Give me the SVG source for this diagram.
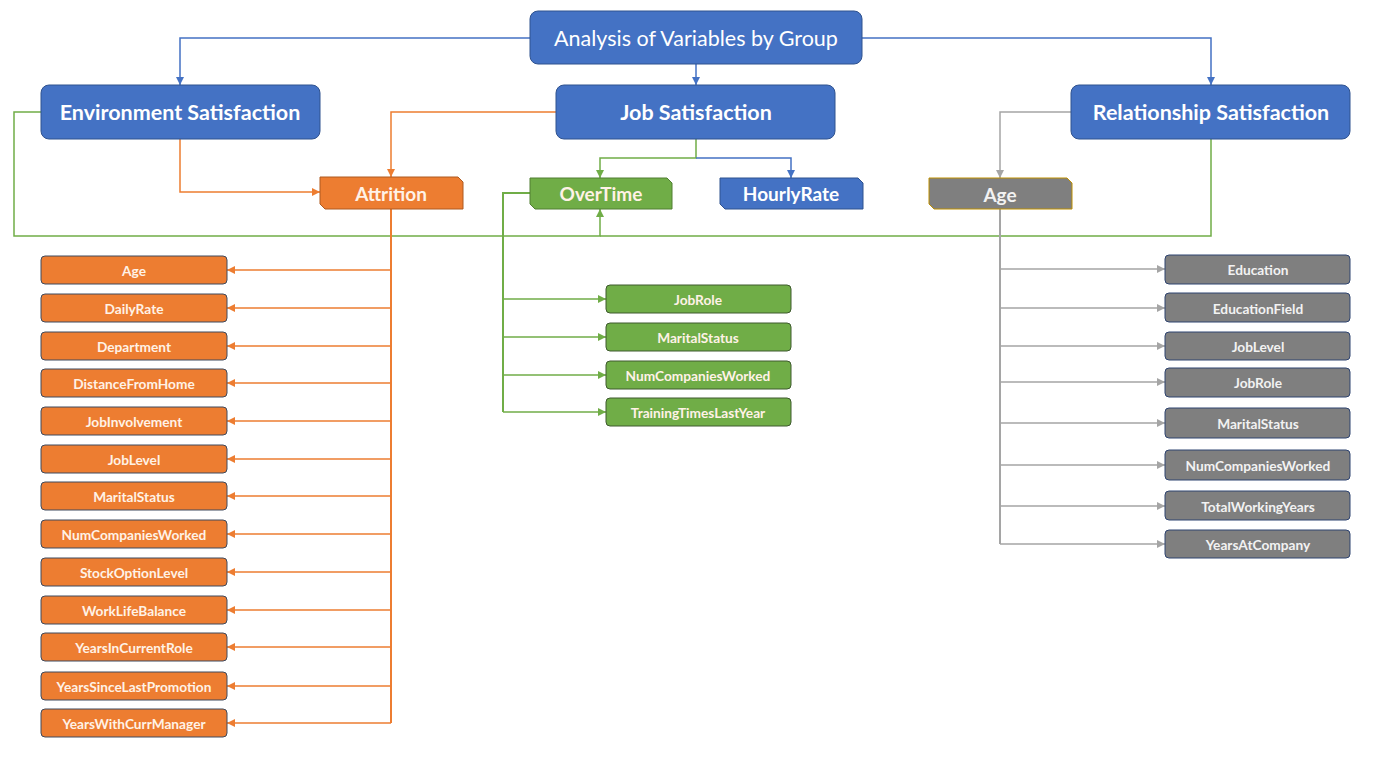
<svg xmlns="http://www.w3.org/2000/svg" width="1393" height="779" viewBox="0 0 1393 779">
<defs>
<style>
text{font-family:Lato,"Liberation Sans",sans-serif;text-anchor:middle;dominant-baseline:central}
.blue{fill:#4472C4;stroke:#2F528F;stroke-width:1}
.t1{font-size:21.5px;fill:#fff}
.t2{font-size:21.5px;font-weight:bold;fill:#fff}
.t3{font-size:19px;font-weight:bold}
.ti{font-size:13.7px;font-weight:bold}
.or{fill:#ED7D31;stroke:#AE5A21}
.orI{fill:#ED7D31;stroke:#3E4A5E}
.gr{fill:#70AD47;stroke:#507E32}
.grI{fill:#70AD47;stroke:#3E5A2E}
.gy{fill:#7F7F7F;stroke:#BF9000}
.gyI{fill:#7F7F7F;stroke:#2F4470}
.cw{fill:#FFF2E6}
.cg{fill:#F2F2F2}
.lb{fill:none;stroke:#4472C4;stroke-width:1.5}
.lo{fill:none;stroke:#ED7D31;stroke-width:1.5}
.lg{fill:none;stroke:#70AD47;stroke-width:1.5}
.ly{fill:none;stroke:#A5A5A5;stroke-width:1.5}
.tk{stroke-width:2}
</style>
<marker id="ab" markerWidth="10" markerHeight="10" refX="8" refY="5" orient="auto" markerUnits="userSpaceOnUse"><path d="M0,1 L8,5 L0,9 z" fill="#4472C4"/></marker>
<marker id="ao" markerWidth="10" markerHeight="10" refX="8" refY="5" orient="auto" markerUnits="userSpaceOnUse"><path d="M0,1 L8,5 L0,9 z" fill="#ED7D31"/></marker>
<marker id="ag" markerWidth="10" markerHeight="10" refX="8" refY="5" orient="auto" markerUnits="userSpaceOnUse"><path d="M0,1 L8,5 L0,9 z" fill="#70AD47"/></marker>
<marker id="ay" markerWidth="10" markerHeight="10" refX="8" refY="5" orient="auto" markerUnits="userSpaceOnUse"><path d="M0,1 L8,5 L0,9 z" fill="#A5A5A5"/></marker>
</defs>
<rect width="1393" height="779" fill="#fff"/>
<g id="connectors">
<path class="lb" d="M530,38 H180 V85" marker-end="url(#ab)"/>
<path class="lb" d="M696,64 V85" marker-end="url(#ab)"/>
<path class="lb" d="M862,38 H1211 V85" marker-end="url(#ab)"/>
<path class="lo" d="M180,139 V192 H320" marker-end="url(#ao)"/>
<path class="lo" d="M556,112 H391 V177" marker-end="url(#ao)"/>
<path class="lg" d="M696,139 V158 H600 V178" marker-end="url(#ag)"/>
<path class="lb" d="M696,158 H791 V178" marker-end="url(#ab)"/>
<path class="lg" d="M41,112 H14 V236 H600 V209" marker-end="url(#ag)"/>
<path class="lg" d="M1211,139 V236 H600"/>
<path class="ly" d="M1071,112 H1000 V178" marker-end="url(#ay)"/>
<path class="lo tk" d="M391,209 V723"/>
<path class="lo" d="M391,270 H227" marker-end="url(#ao)"/>
<path class="lo" d="M391,308 H227" marker-end="url(#ao)"/>
<path class="lo" d="M391,346 H227" marker-end="url(#ao)"/>
<path class="lo" d="M391,383 H227" marker-end="url(#ao)"/>
<path class="lo" d="M391,421 H227" marker-end="url(#ao)"/>
<path class="lo" d="M391,459 H227" marker-end="url(#ao)"/>
<path class="lo" d="M391,496 H227" marker-end="url(#ao)"/>
<path class="lo" d="M391,534 H227" marker-end="url(#ao)"/>
<path class="lo" d="M391,572 H227" marker-end="url(#ao)"/>
<path class="lo" d="M391,610 H227" marker-end="url(#ao)"/>
<path class="lo" d="M391,647 H227" marker-end="url(#ao)"/>
<path class="lo" d="M391,686 H227" marker-end="url(#ao)"/>
<path class="lo" d="M391,723 H227" marker-end="url(#ao)"/>
<path class="lg tk" d="M530,193 H503 V412"/>
<path class="lg" d="M503,299 H606" marker-end="url(#ag)"/>
<path class="lg" d="M503,337 H606" marker-end="url(#ag)"/>
<path class="lg" d="M503,375 H606" marker-end="url(#ag)"/>
<path class="lg" d="M503,412 H606" marker-end="url(#ag)"/>
<path class="ly tk" d="M1000,209 V544"/>
<path class="ly" d="M1000,269 H1165" marker-end="url(#ay)"/>
<path class="ly" d="M1000,308 H1165" marker-end="url(#ay)"/>
<path class="ly" d="M1000,346 H1165" marker-end="url(#ay)"/>
<path class="ly" d="M1000,382 H1165" marker-end="url(#ay)"/>
<path class="ly" d="M1000,423 H1165" marker-end="url(#ay)"/>
<path class="ly" d="M1000,465 H1165" marker-end="url(#ay)"/>
<path class="ly" d="M1000,506 H1165" marker-end="url(#ay)"/>
<path class="ly" d="M1000,544 H1165" marker-end="url(#ay)"/>
</g>
<g id="n-root"><rect class="blue" x="530" y="11" width="332" height="53" rx="8"/><text class="t1" x="696" y="38">Analysis of Variables by Group</text></g>
<g id="n-env"><rect class="blue" x="41" y="85" width="279" height="54" rx="8"/><text class="t2" x="180" y="112">Environment Satisfaction</text></g>
<g id="n-job"><rect class="blue" x="556" y="85" width="279" height="54" rx="8"/><text class="t2" x="696" y="112">Job Satisfaction</text></g>
<g id="n-rel"><rect class="blue" x="1071" y="85" width="279" height="54" rx="8"/><text class="t2" x="1211" y="112">Relationship Satisfaction</text></g>
<g id="n-attrition"><path class="or" d="M320,177 H458 L463,182 V209 H325 L320,204 Z"/><text class="t3 cw" x="391" y="193">Attrition</text></g>
<g id="n-overtime"><path class="gr" d="M530,178 H667 L672,183 V209 H535 L530,204 Z"/><text class="t3 cw" x="601" y="193">OverTime</text></g>
<g id="n-hourly"><path class="blue" d="M720,178 H858 L863,183 V209 H725 L720,204 Z"/><text class="t3" fill="#fff" x="791" y="193">HourlyRate</text></g>
<g id="n-age"><path class="gy" d="M929,178 H1067 L1072,183 V209 H934 L929,204 Z"/><text class="t3 cg" x="1000" y="194">Age</text></g>
<g id="att-items">
<g id="a1"><rect class="orI" x="41" y="256" width="186" height="28" rx="4"/><text class="ti cw" x="134" y="270">Age</text></g>
<g id="a2"><rect class="orI" x="41" y="294" width="186" height="28" rx="4"/><text class="ti cw" x="134" y="308">DailyRate</text></g>
<g id="a3"><rect class="orI" x="41" y="332" width="186" height="28" rx="4"/><text class="ti cw" x="134" y="346">Department</text></g>
<g id="a4"><rect class="orI" x="41" y="369" width="186" height="28" rx="4"/><text class="ti cw" x="134" y="383">DistanceFromHome</text></g>
<g id="a5"><rect class="orI" x="41" y="407" width="186" height="28" rx="4"/><text class="ti cw" x="134" y="421">JobInvolvement</text></g>
<g id="a6"><rect class="orI" x="41" y="445" width="186" height="28" rx="4"/><text class="ti cw" x="134" y="459">JobLevel</text></g>
<g id="a7"><rect class="orI" x="41" y="482" width="186" height="28" rx="4"/><text class="ti cw" x="134" y="496">MaritalStatus</text></g>
<g id="a8"><rect class="orI" x="41" y="520" width="186" height="28" rx="4"/><text class="ti cw" x="134" y="534">NumCompaniesWorked</text></g>
<g id="a9"><rect class="orI" x="41" y="558" width="186" height="28" rx="4"/><text class="ti cw" x="134" y="572">StockOptionLevel</text></g>
<g id="a10"><rect class="orI" x="41" y="596" width="186" height="28" rx="4"/><text class="ti cw" x="134" y="610">WorkLifeBalance</text></g>
<g id="a11"><rect class="orI" x="41" y="633" width="186" height="28" rx="4"/><text class="ti cw" x="134" y="647">YearsInCurrentRole</text></g>
<g id="a12"><rect class="orI" x="41" y="672" width="186" height="28" rx="4"/><text class="ti cw" x="134" y="686">YearsSinceLastPromotion</text></g>
<g id="a13"><rect class="orI" x="41" y="709" width="186" height="28" rx="4"/><text class="ti cw" x="134" y="723">YearsWithCurrManager</text></g>
</g>
<g id="ot-items">
<g id="o1"><rect class="grI" x="606" y="285" width="185" height="28" rx="4"/><text class="ti cw" x="698" y="299">JobRole</text></g>
<g id="o2"><rect class="grI" x="606" y="323" width="185" height="28" rx="4"/><text class="ti cw" x="698" y="337">MaritalStatus</text></g>
<g id="o3"><rect class="grI" x="606" y="361" width="185" height="28" rx="4"/><text class="ti cw" x="698" y="375">NumCompaniesWorked</text></g>
<g id="o4"><rect class="grI" x="606" y="398" width="185" height="28" rx="4"/><text class="ti cw" x="698" y="412">TrainingTimesLastYear</text></g>
</g>
<g id="age-items">
<g id="g1"><rect class="gyI" x="1165" y="255" width="185" height="29" rx="4"/><text class="ti cg" x="1258" y="269">Education</text></g>
<g id="g2"><rect class="gyI" x="1165" y="293" width="185" height="29" rx="4"/><text class="ti cg" x="1258" y="308">EducationField</text></g>
<g id="g3"><rect class="gyI" x="1165" y="332" width="185" height="28" rx="4"/><text class="ti cg" x="1258" y="346">JobLevel</text></g>
<g id="g4"><rect class="gyI" x="1165" y="368" width="185" height="29" rx="4"/><text class="ti cg" x="1258" y="382">JobRole</text></g>
<g id="g5"><rect class="gyI" x="1165" y="408" width="185" height="30" rx="4"/><text class="ti cg" x="1258" y="423">MaritalStatus</text></g>
<g id="g6"><rect class="gyI" x="1165" y="450" width="185" height="30" rx="4"/><text class="ti cg" x="1258" y="465">NumCompaniesWorked</text></g>
<g id="g7"><rect class="gyI" x="1165" y="491" width="185" height="29" rx="4"/><text class="ti cg" x="1258" y="506">TotalWorkingYears</text></g>
<g id="g8"><rect class="gyI" x="1165" y="530" width="185" height="28" rx="4"/><text class="ti cg" x="1258" y="544">YearsAtCompany</text></g>
</g>
</svg>
